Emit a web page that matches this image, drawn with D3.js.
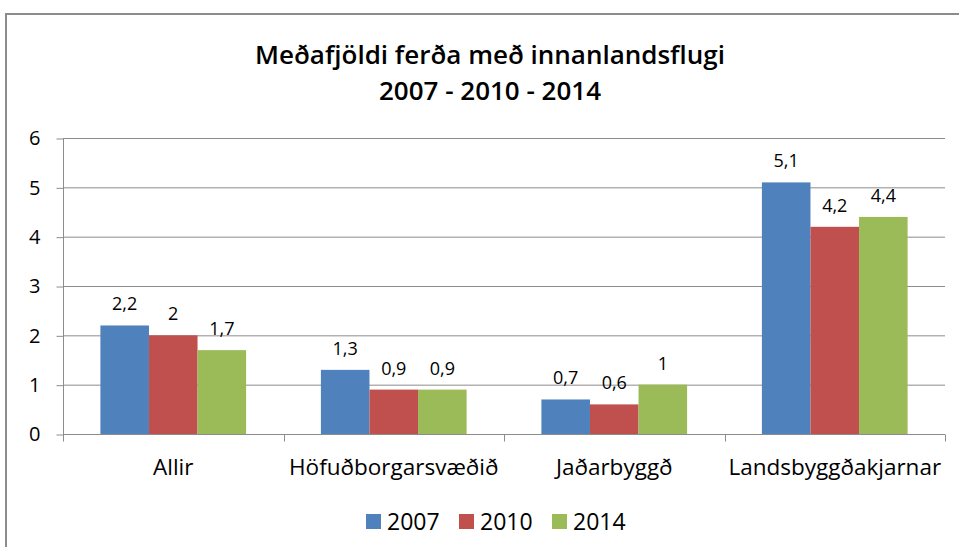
<!DOCTYPE html>
<html>
<head>
<meta charset="utf-8">
<script src="https://cdn.jsdelivr.net/npm/d3@7"></script>
<style>
  body { margin: 0; background: #fff; }
  text { font-family: "Open Sans", "Noto Sans", sans-serif; fill: #000; }
</style>
</head>
<body>
<script>
// data
var categories = ["Allir", "Höfuðborgarsvæðið", "Jaðarbyggð", "Landsbyggðakjarnar"];
var years = ["2007", "2010", "2014"];
var v2007 = [2.2, 1.3, 0.7, 5.1];
var v2010 = [2, 0.9, 0.6, 4.2];
var v2014 = [1.7, 0.9, 1, 4.4];
var yTicks = [0, 1, 2, 3, 4, 5, 6];
var colors = ["#4f81bd", "#c0504d", "#9bbb59"];

var seriesValues = [v2007, v2010, v2014];

function initiateGraphic()
{
	var svg = d3.select("body").append("svg")
		.attr("width", 959)
		.attr("height", 547);

	// outer frame (cut at right and bottom)
	svg.append("path")
		.attr("d", "M6,547 V14 H959")
		.attr("fill", "none")
		.attr("stroke", "#8c8c8c")
		.attr("stroke-width", 2);

	// title
	svg.append("text")
		.attr("x", 490).attr("y", 64)
		.attr("text-anchor", "middle")
		.style("font-size", "26px")
		.style("font-weight", 600)
		.text("Meðafjöldi ferða með innanlandsflugi");
	svg.append("text")
		.attr("x", 490).attr("y", 100)
		.attr("text-anchor", "middle")
		.style("font-size", "26px")
		.style("font-weight", 600)
		.text("2007 - 2010 - 2014");

	var left = 63, right = 945, top = 138, bottom = 434;

	var y = d3.scaleLinear().domain([0, 6]).range([bottom, top]);
	var x0 = d3.scaleBand().domain(categories).range([left, right]).padding(0);
	var x1 = d3.scaleBand().domain(years)
		.range([0, x0.bandwidth()]).paddingOuter(0.77).paddingInner(0);

	// gridlines
	svg.append("g").selectAll("line")
		.data(yTicks.filter(function(d){ return d > 0; }))
		.enter().append("line")
		.attr("x1", left).attr("x2", right)
		.attr("y1", function(d){ return y(d) + 0.5; })
		.attr("y2", function(d){ return y(d) + 0.5; })
		.attr("stroke", "#8c8c8c");

	// y axis
	var yAxis = svg.append("g")
		.attr("transform", "translate(" + (left + 0.5) + ",0.5)")
		.call(d3.axisLeft(y).tickValues(yTicks).tickSize(7).tickPadding(16)
			.tickFormat(function(d){ return d; }));
	yAxis.selectAll("path, line").attr("stroke", "#8c8c8c");
	yAxis.select(".domain").attr("d", "M0," + top + "V" + bottom);
	yAxis.selectAll("text").style("font-size", "20px")
		.style("font-family", "'Open Sans', sans-serif").attr("fill", "#000");

	// bars
	var groups = svg.append("g").selectAll("g")
		.data(categories)
		.enter().append("g")
		.attr("transform", function(d){ return "translate(" + x0(d) + ",0)"; });

	groups.selectAll("rect")
		.data(function(c, i){
			return years.map(function(yr, j){ return {year: yr, value: seriesValues[j][i], color: colors[j]}; });
		})
		.enter().append("rect")
		.attr("x", function(d){ return x1(d.year); })
		.attr("width", x1.bandwidth())
		.attr("y", function(d){ return y(d.value); })
		.attr("height", function(d){ return bottom - y(d.value); })
		.attr("fill", function(d){ return d.color; });

	// data labels
	groups.selectAll("text")
		.data(function(c, i){
			return years.map(function(yr, j){ return {year: yr, value: seriesValues[j][i]}; });
		})
		.enter().append("text")
		.attr("x", function(d){ return x1(d.year) + x1.bandwidth() / 2; })
		.attr("y", function(d){ return y(d.value) - 15; })
		.attr("text-anchor", "middle")
		.style("font-size", "18px")
		.text(function(d){ return String(d.value).replace(".", ","); });

	// x axis
	var xAxis = svg.append("g")
		.attr("transform", "translate(0," + (bottom + 0.5) + ")");
	xAxis.append("line")
		.attr("x1", left).attr("x2", right)
		.attr("stroke", "#8c8c8c");
	xAxis.selectAll("line.tick")
		.data(categories.map(function(c){ return x0(c); }).concat([right]))
		.enter().append("line")
		.attr("class", "tick")
		.attr("x1", function(d){ return Math.round(d) + 0.5; })
		.attr("x2", function(d){ return Math.round(d) + 0.5; })
		.attr("y1", 0).attr("y2", 7)
		.attr("stroke", "#8c8c8c");
	xAxis.selectAll("text")
		.data(categories)
		.enter().append("text")
		.attr("x", function(d){ return x0(d) + x0.bandwidth() / 2; })
		.attr("y", 40)
		.attr("text-anchor", "middle")
		.style("font-size", "22.5px")
		.text(function(d){ return d; });

	// legend
	var legend = svg.append("g").selectAll("g")
		.data(years)
		.enter().append("g")
		.attr("transform", function(d, i){ return "translate(" + (366 + i * 93) + ",514)"; });
	legend.append("rect")
		.attr("width", 15).attr("height", 15)
		.attr("fill", function(d, i){ return colors[i]; });
	legend.append("text")
		.attr("x", 21).attr("y", 16)
		.style("font-size", "23px")
		.text(function(d){ return d; });
}

initiateGraphic();
</script>
</body>
</html>
